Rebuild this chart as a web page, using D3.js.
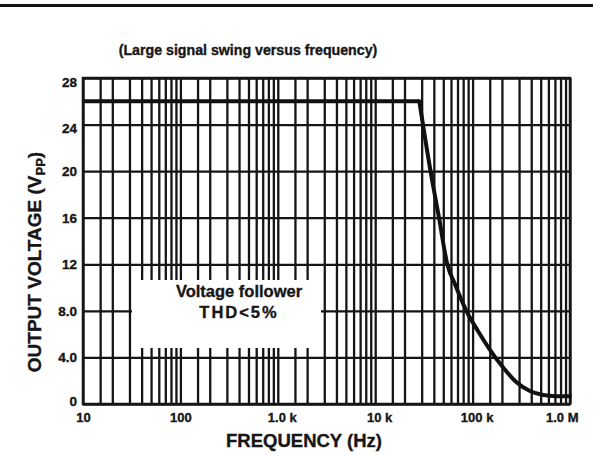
<!DOCTYPE html>
<html>
<head>
<meta charset="utf-8">
<script src="https://cdn.jsdelivr.net/npm/d3@7"></script>
<style>
  html, body { margin: 0; padding: 0; background: #fff; }
  svg { display: block; }
  text { font-family: "Liberation Sans", Arial, Helvetica, sans-serif; font-weight: bold; fill: #161616;
         stroke: #161616; stroke-width: 0.35px; }
</style>
</head>
<body>
<script>
// ---- data ----
const freqHz   = [10, 28400, 37000, 45200, 55000, 65900, 85500, 113500, 149000, 200000, 284000, 388000, 532000, 718000, 1000000];
const voltsVpp = [26, 26,    20,    16,    12,    10.3,  8.07,  6.27,   4.72,   3.26,   1.85,   1.12,   0.77,   0.67,   0.66];

const xTickValues = [10, 100, 1000, 10000, 100000, 1000000];
const xTickLabels = ["10", "100", "1.0 k", "10 k", "100 k", "1.0 M"];
const yTickValues = [0, 4, 8, 12, 16, 20, 24, 28];
const yTickLabels = ["0", "4.0", "8.0", "12", "16", "20", "24", "28"];
const gridMultipliers = [1, 1.5, 2, 3, 4, 5, 6, 7, 8, 9];
const decades = [10, 100, 1000, 10000, 100000];

const title = "(Large signal swing versus frequency)";
const xTitle = "FREQUENCY (Hz)";
const noteLines = ["Voltage follower", "THD<5%"];

// ---- layout ----
const W = 593, H = 455;
const L = 83, R = 570, T = 78, B = 404;

const svg = d3.select("body").append("svg").attr("width", W).attr("height", H);

const x = d3.scaleLog().domain([10, 1e6]).range([L, R]);
const y = d3.scaleLinear().domain([0, 28]).range([B, T]);

// top rule
svg.append("line").attr("x1", 0).attr("x2", W).attr("y1", 5.5).attr("y2", 5.5)
  .attr("stroke", "#111").attr("stroke-width", 3);

// title
svg.append("text").attr("x", 248).attr("y", 55).attr("text-anchor", "middle")
  .style("font-size", "14.2px").text(title);

// vertical grid
const gridFreqs = [];
decades.forEach(d => gridMultipliers.forEach(m => gridFreqs.push(d * m)));
gridFreqs.push(1e6);

const gx = svg.append("g").attr("transform", `translate(0,${B})`)
  .call(d3.axisBottom(x).tickValues(gridFreqs).tickSize(-(B - T)).tickFormat(""));
gx.select(".domain").remove();
gx.selectAll(".tick line").attr("stroke", "#151515").attr("stroke-width", 2.3);

// horizontal grid
const gy = svg.append("g").attr("transform", `translate(${L},0)`)
  .call(d3.axisLeft(y).tickValues(yTickValues).tickSize(-(R - L)).tickFormat(""));
gy.select(".domain").remove();
gy.selectAll(".tick line").attr("stroke", "#151515").attr("stroke-width", 2.3);

// frame
svg.append("rect").attr("x", L).attr("y", T).attr("width", R - L).attr("height", B - T)
  .attr("fill", "none").attr("stroke", "#151515").attr("stroke-width", 2.5);

// note box (white out)
svg.append("rect").attr("x", 132).attr("y", 280).attr("width", 189).attr("height", 68)
  .attr("fill", "#fff");
svg.append("text").attr("x", 239).attr("y", 297).attr("text-anchor", "middle")
  .style("font-size", "16.5px").text(noteLines[0]);
svg.append("text").attr("x", 239).attr("y", 317.5).attr("text-anchor", "middle")
  .style("font-size", "16.5px").style("letter-spacing", "2px").text(noteLines[1]);

// curve: flat part + rolled-off tail (same data)
const pts = freqHz.map((f, i) => [f, voltsVpp[i]]);
const line = d3.line().x(d => x(d[0])).y(d => y(d[1]));
svg.append("path").datum(pts.slice(0, 2))
  .attr("fill", "none").attr("stroke", "#111").attr("stroke-width", 4)
  .attr("d", line.curve(d3.curveLinear));
svg.append("path").datum(pts.slice(1))
  .attr("fill", "none").attr("stroke", "#111").attr("stroke-width", 4)
  .attr("stroke-linejoin", "round").attr("stroke-linecap", "round")
  .attr("d", line.curve(d3.curveMonotoneX));

// x tick labels
const ax = svg.append("g").attr("transform", `translate(0,${B})`)
  .call(d3.axisBottom(x).tickValues(xTickValues).tickSize(0).tickPadding(9)
    .tickFormat((d, i) => xTickLabels[i]));
ax.select(".domain").remove();
ax.selectAll("text").style("font-size", "13px").style("font-family", null)
  .attr("fill", "#161616")
  .attr("dx", (d, i) => (xTickLabels[i].endsWith(" k") ? 4 : 0));
ax.selectAll(".tick").filter(d => d === 1e6).select("text")
  .attr("text-anchor", "end").attr("dx", 8);

// y tick labels
const ay = svg.append("g").attr("transform", `translate(${L},0)`)
  .call(d3.axisLeft(y).tickValues(yTickValues).tickSize(0).tickPadding(6)
    .tickFormat((d, i) => yTickLabels[i]));
ay.select(".domain").remove();
ay.selectAll("text").style("font-size", "13.5px").style("font-family", null)
  .attr("fill", "#161616");
ay.selectAll(".tick").filter(d => d >= 24).select("text").attr("dy", "0.6em");
ay.selectAll(".tick").filter(d => d === 0).select("text").attr("dy", "0.1em");

// axis titles
svg.append("text").attr("x", 304).attr("y", 446.5).attr("text-anchor", "middle")
  .style("font-size", "18.5px").text(xTitle);

const yt = svg.append("text").attr("transform", "translate(41,262) rotate(-90)")
  .attr("text-anchor", "middle").style("font-size", "19px");
yt.append("tspan").text("OUTPUT VOLTAGE (V");
yt.append("tspan").attr("dy", 4).style("font-size", "13px").text("PP");
yt.append("tspan").attr("dy", -4).text(")");
</script>
</body>
</html>
